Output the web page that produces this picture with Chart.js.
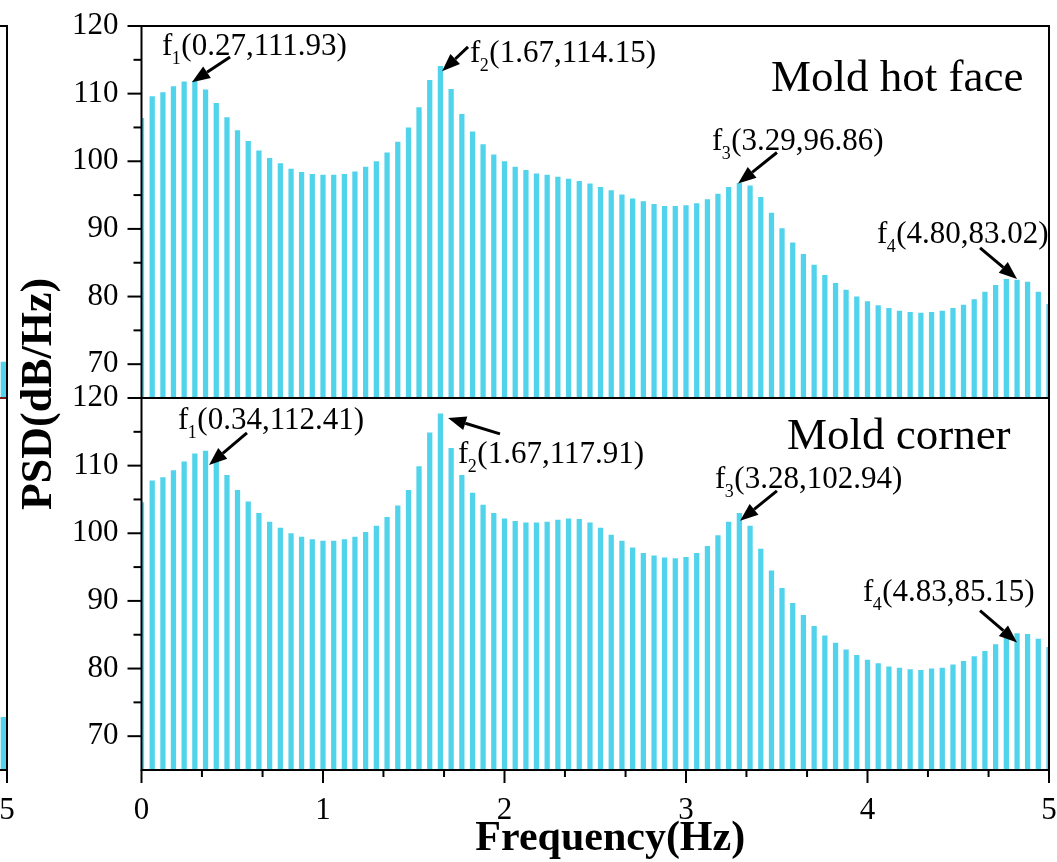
<!DOCTYPE html>
<html><head><meta charset="utf-8">
<script src="https://cdn.jsdelivr.net/npm/chart.js@4.4.0/dist/chart.umd.min.js"></script>
<style>
html,body{margin:0;padding:0;background:#fff;overflow:hidden}
#wrap{position:relative;width:1057px;height:862px;background:#fff}
#main{position:absolute;left:0;top:0}
#nbWrap{position:absolute;left:0;top:0;width:16px;height:862px;overflow:hidden}
#nb{position:absolute;left:-1042px;top:0}
</style></head><body>
<div id="wrap">
<div id="nbWrap"><canvas id="nb" width="1057" height="862"></canvas></div>
<canvas id="main" width="1057" height="862"></canvas>
</div>
<script>
// ---------- data ----------
const freq = [0.000,0.059,0.118,0.176,0.235,0.294,0.353,0.412,0.471,0.529,0.588,0.647,0.706,0.765,0.824,0.882,0.941,1.000,
1.059,1.118,1.176,1.235,1.294,1.353,1.412,1.471,1.529,1.588,1.647,1.706,1.765,1.824,1.882,1.941,2.000,
2.059,2.118,2.176,2.235,2.294,2.353,2.412,2.471,2.529,2.588,2.647,2.706,2.765,2.824,2.882,2.941,3.000,
3.059,3.118,3.176,3.235,3.294,3.353,3.412,3.471,3.529,3.588,3.647,3.706,3.765,3.824,3.882,3.941,4.000,
4.059,4.118,4.176,4.235,4.294,4.353,4.412,4.471,4.529,4.588,4.647,4.706,4.765,4.824,4.882,4.941,5.000];

const hotFace = [106.4,109.6,110.2,111.1,111.8,111.9,110.6,108.6,106.5,104.6,103.0,101.6,100.5,99.7,98.9,98.4,98.1,98.0,
98.0,98.1,98.5,99.2,100.0,101.3,102.9,105.0,108.0,112.0,114.1,110.7,107.0,104.4,102.5,101.0,100.0,
99.2,98.7,98.2,98.0,97.7,97.4,97.1,96.7,96.2,95.7,95.1,94.5,94.1,93.7,93.4,93.4,93.5,
93.8,94.4,95.2,96.2,96.8,96.4,94.7,92.4,90.1,88.0,86.3,84.7,83.2,82.0,81.0,80.0,79.3,
78.7,78.3,77.9,77.7,77.6,77.7,77.9,78.3,78.8,79.6,80.7,81.7,82.6,82.5,82.2,80.7,78.9];

const corner = [104.6,107.8,108.3,109.3,110.6,111.8,112.2,110.7,108.6,106.4,104.7,103.0,101.7,100.8,100.0,99.5,99.1,98.9,
98.9,99.1,99.5,100.2,101.1,102.4,104.1,106.4,109.9,114.9,117.7,112.6,108.6,106.0,104.2,103.0,102.2,
101.8,101.6,101.6,101.7,102.0,102.2,102.1,101.6,100.8,99.8,98.9,97.9,97.1,96.7,96.4,96.3,96.5,
97.1,98.1,99.7,101.7,103.0,101.1,97.7,94.5,91.9,89.7,87.9,86.3,84.9,83.8,82.8,82.0,81.3,
80.8,80.3,80.1,79.9,79.8,80.0,80.1,80.6,81.1,81.8,82.6,83.6,84.5,85.2,85.1,84.4,83.2];

// neighbouring (cropped) figure at the far left: only its last bars are visible
const nbFreq = [5.0];
const nbTop = [70.3];
const nbBot = [72.8];

const xTickValues = [0,1,2,3,4,5];
const xMinorValues = [0.333,0.667,1.333,1.667,2.333,2.667,3.333,3.667,4.333,4.667];
const yTickValues = [70,80,90,100,110,120];
const yMinorValues = [75,85,95,105,115];

const panelNames = ['Mold hot face','Mold corner'];
const peakSubs = ['1','2','3','4','1','2','3','4'];
const peakTexts = ['(0.27,111.93)','(1.67,114.15)','(3.29,96.86)','(4.80,83.02)',
                   '(0.34,112.41)','(1.67,117.91)','(3.28,102.94)','(4.83,85.15)'];
const xTitle = 'Frequency(Hz)';
const yTitle = 'PSD(dB/Hz)';

// ---------- layout of annotations (data coordinates) ----------
const peakLayout = [
 {axis:'yTop', tx:0.113, ty:115.7, ax:0.488, ay:115.4, bx:0.278, by:111.7},
 {axis:'yTop', tx:1.810, ty:114.66, ax:1.799, ay:116.9, bx:1.656, by:113.3},
 {axis:'yTop', tx:3.143, ty:101.6, ax:3.501, ay:101.3, bx:3.287, by:96.7},
 {axis:'yTop', tx:4.052, ty:87.98, ax:4.620, ay:87.2, bx:4.824, by:82.6},
 {axis:'yBot', tx:0.201, ty:115.43, ax:0.581, ay:114.84, bx:0.372, by:110.1},
 {axis:'yBot', tx:1.744, ty:110.41, ax:1.975, ay:114.69, bx:1.689, by:117.05},
 {axis:'yBot', tx:3.160, ty:106.73, ax:3.501, ay:106.28, bx:3.298, by:101.86},
 {axis:'yBot', tx:3.975, ty:90.06, ax:4.620, ay:88.58, bx:4.824, by:83.86}
];
const panelLayout = [{axis:'yTop', x:3.468, y:110.36},{axis:'yBot', x:3.556, y:112.48}];

const FONT = '"Liberation Serif","Times New Roman",serif';
const barColor = '#52D3EC';

function arrow(ctx, x1, y1, x2, y2){
  const ang = Math.atan2(y2-y1, x2-x1);
  const hl = 18, hw = 7;
  const bx = x2 - hl*Math.cos(ang), by = y2 - hl*Math.sin(ang);
  ctx.beginPath(); ctx.moveTo(x1,y1); ctx.lineTo(bx,by); ctx.lineWidth = 3; ctx.stroke();
  ctx.beginPath();
  ctx.moveTo(x2,y2);
  ctx.lineTo(bx + hw*Math.sin(ang), by - hw*Math.cos(ang));
  ctx.lineTo(bx - hw*Math.sin(ang), by + hw*Math.cos(ang));
  ctx.closePath(); ctx.fill();
}

const decoPlugin = {
  id:'deco',
  afterDatasetsDraw(chart){
    const o = chart.options.plugins.deco || {};
    const ctx = chart.ctx, ca = chart.chartArea;
    const sx = chart.scales.x, sT = chart.scales.yTop, sB = chart.scales.yBot;
    ctx.save();
    ctx.lineCap = 'butt';
    ctx.lineWidth = 2;
    ctx.strokeStyle = o.midColor || '#000';
    ctx.beginPath(); ctx.moveTo(ca.left, sT.bottom); ctx.lineTo(ca.right, sT.bottom); ctx.stroke();
    ctx.strokeStyle = '#000';
    ctx.strokeRect(ca.left, ca.top, ca.right-ca.left, ca.bottom-ca.top);
    for (const s of [sT, sB]) {
      for (const v of yTickValues) { const y = s.getPixelForValue(v); ctx.beginPath(); ctx.moveTo(ca.left-14, y); ctx.lineTo(ca.left, y); ctx.stroke(); }
      for (const v of yMinorValues) { const y = s.getPixelForValue(v); ctx.beginPath(); ctx.moveTo(ca.left-8, y); ctx.lineTo(ca.left, y); ctx.stroke(); }
    }
    for (const v of xTickValues) { const x = sx.getPixelForValue(v); ctx.beginPath(); ctx.moveTo(x, ca.bottom); ctx.lineTo(x, ca.bottom+13); ctx.stroke(); }
    for (const v of xMinorValues) { const x = sx.getPixelForValue(v); ctx.beginPath(); ctx.moveTo(x, ca.bottom); ctx.lineTo(x, ca.bottom+7); ctx.stroke(); }

    if (o.annotate) {
      ctx.fillStyle = '#000'; ctx.strokeStyle = '#000';
      ctx.textBaseline = 'alphabetic'; ctx.textAlign = 'left';
      peakLayout.forEach((p, i) => {
        const s = chart.scales[p.axis];
        const tx = sx.getPixelForValue(p.tx), ty = s.getPixelForValue(p.ty);
        ctx.font = '31px ' + FONT;
        ctx.fillText('f', tx, ty);
        const wf = ctx.measureText('f').width;
        ctx.font = '18px ' + FONT;
        ctx.fillText(peakSubs[i], tx + wf - 0.5, ty + 9);
        const ws = ctx.measureText(peakSubs[i]).width;
        ctx.font = '31px ' + FONT;
        ctx.fillText(peakTexts[i], tx + wf + ws, ty);
        arrow(ctx, sx.getPixelForValue(p.ax), s.getPixelForValue(p.ay), sx.getPixelForValue(p.bx), s.getPixelForValue(p.by));
      });
      ctx.font = '45px ' + FONT;
      panelLayout.forEach((p, i) => {
        const s = chart.scales[p.axis];
        ctx.fillText(panelNames[i], sx.getPixelForValue(p.x), s.getPixelForValue(p.y));
      });
      ctx.font = 'bold 42px ' + FONT;
      ctx.textAlign = 'center';
      ctx.fillText(xTitle, (ca.left+ca.right)/2 + 15, ca.bottom + 80);
      ctx.save();
      ctx.font = 'bold 44px ' + FONT;
      ctx.translate(ca.left - 91, sT.bottom - 4);
      ctx.rotate(-Math.PI/2);
      ctx.fillText(yTitle, 0, 0);
      ctx.restore();
    }
    ctx.restore();
  }
};

function noPad(s){ s.paddingTop = 0; s.paddingBottom = 0; s.paddingLeft = 0; s.paddingRight = 0; }

function pts(xs, ys){ return ys.map((v,i)=>({x:xs[i], y:v})); }

function yAxis(){
  return {
    type:'linear', position:'left', stack:'psd', stackWeight:1, min:65, max:120,
    grid:{display:false, drawTicks:false}, border:{display:false},
    afterBuildTicks:s=>{ s.ticks = yTickValues.map(v=>({value:v})); },
    ticks:{autoSkip:false, padding:23, color:'#000', font:{family:FONT, size:31}, callback:v=>String(v)},
    afterFit:s=>{ s.width = 141.5; noPad(s); }
  };
}

function makeChart(canvas, xs, top, bot, opts){
  const common = {base:65, backgroundColor:barColor, borderWidth:0, grouped:false, barPercentage:0.5, categoryPercentage:1};
  if (opts.thick) common.barThickness = opts.thick;
  return new Chart(canvas, {
    type:'bar',
    data:{ datasets:[
      Object.assign({label:panelNames[0], data:pts(xs, top), yAxisID:'yTop'}, common),
      Object.assign({label:panelNames[1], data:pts(xs, bot), yAxisID:'yBot'}, common)
    ]},
    options:{
      responsive:false, animation:false, devicePixelRatio:1,
      layout:{padding:{top:26, right:8, left:0, bottom:0}},
      plugins:{legend:{display:false}, tooltip:{enabled:false}, deco:{annotate:opts.annotate, midColor:opts.midColor}},
      scales:{
        x:{type:'linear', min:0, max:5, offset:false,
           grid:{display:false, drawTicks:false}, border:{display:false},
           afterBuildTicks:s=>{ s.ticks = xTickValues.map(v=>({value:v})); },
           ticks:{autoSkip:false, maxRotation:0, padding:22, color:'#000', font:{family:FONT, size:31}, callback:v=>String(v)},
           afterFit:s=>{ s.height = 92; noPad(s); }},
        yBot: yAxis(),
        yTop: yAxis()
      }
    },
    plugins:[decoPlugin]
  });
}

makeChart(document.getElementById('nb'), nbFreq, nbTop, nbBot, {annotate:false, thick:12, midColor:'#7a1c14'});
makeChart(document.getElementById('main'), freq, hotFace, corner, {annotate:true});
</script>
</body></html>
